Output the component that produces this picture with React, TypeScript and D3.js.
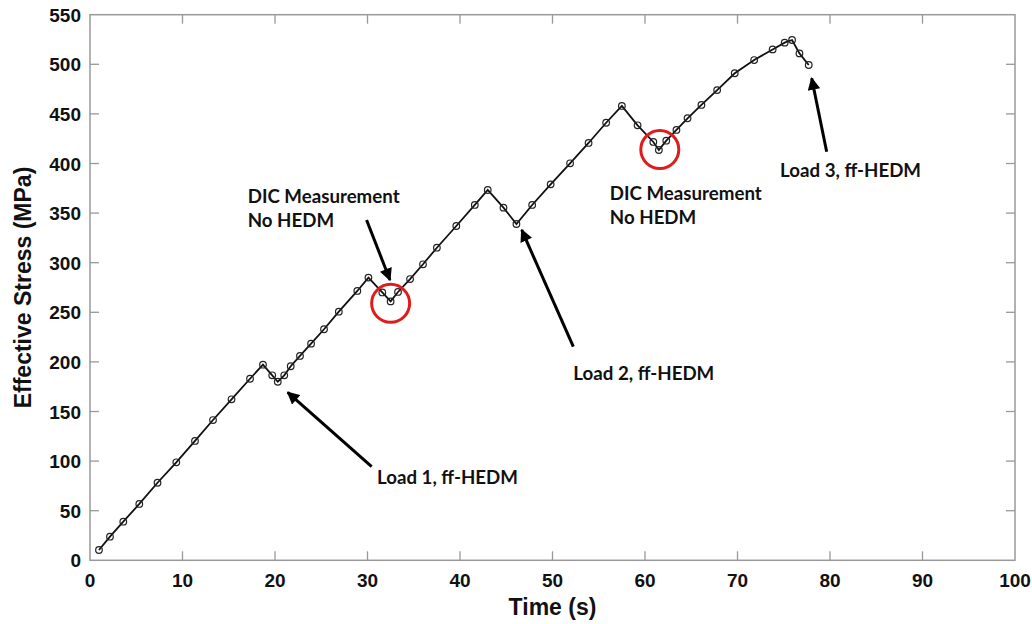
import React from "react";
import * as d3 from "d3";

const timeS = [0.97, 2.16, 3.6, 5.33, 7.3, 9.33, 11.35, 13.3, 15.3, 17.3, 18.7, 19.7, 20.3, 21.0, 21.7, 22.7, 23.9, 25.3, 26.9, 28.9, 30.1, 31.6, 32.5, 33.3, 34.6, 36.0, 37.5, 39.6, 41.6, 43.0, 44.7, 46.1, 47.8, 49.8, 51.9, 53.9, 55.8, 57.5, 59.2, 60.9, 61.5, 62.3, 63.4, 64.6, 66.1, 67.8, 69.7, 71.8, 73.8, 75.1, 75.9, 76.7, 77.7];
const stressMPa = [10.4, 23.8, 38.9, 56.8, 78.2, 98.8, 120.3, 141.4, 162.3, 183, 197.2, 186.5, 180, 186.5, 195.6, 206, 218.4, 232.9, 250.6, 271.5, 285, 270, 261, 270.5, 283.5, 298.4, 315.1, 337, 358.2, 373.3, 355.5, 339, 358.2, 379, 400.2, 420.7, 441.1, 458, 438.5, 421.7, 413.6, 423, 433.8, 445.6, 459, 474, 491, 504.3, 515, 521.8, 524.5, 511, 499.3];

const xTicks = [0, 10, 20, 30, 40, 50, 60, 70, 80, 90, 100];
const yTicks = [0, 50, 100, 150, 200, 250, 300, 350, 400, 450, 500, 550];

// annotations in data units
const circles = [
  { x: 32.5, y: 259 },
  { x: 61.6, y: 414 },
];
const arrows = [
  { x1: 30.45, y1: 94.4, x2: 21.37, y2: 169.4 },
  { x1: 52.25, y1: 215.3, x2: 46.67, y2: 333 },
  { x1: 29.9, y1: 343, x2: 32.43, y2: 282.6 },
  { x1: 79.64, y1: 411.9, x2: 78.02, y2: 485.9 },
];
const labels = [
  { x: 17.05, y: 359.9, lines: ["DIC Measurement", "No HEDM"] },
  { x: 56.2, y: 363.2, lines: ["DIC Measurement", "No HEDM"] },
  { x: 31.03, y: 76.9, lines: ["Load 1, ff-HEDM"] },
  { x: 52.25, y: 181.8, lines: ["Load 2, ff-HEDM"] },
  { x: 74.6, y: 386.7, lines: ["Load 3, ff-HEDM"] },
];

const W = 1032;
const H = 624;
const L = 90, R = 1015, T = 14.7, B = 560.3;

export default function App() {
  const x = d3.scaleLinear().domain([0, 100]).range([L, R]);
  const y = d3.scaleLinear().domain([0, 550]).range([B, T]);
  const pts = timeS.map((t, i) => [t, stressMPa[i]] as [number, number]);
  const line = d3.line<[number, number]>().x((d) => x(d[0])).y((d) => y(d[1]));
  const axisColor = "#999";
  const tickLen = 9;
  const tickFont = "'Liberation Sans', Arial, Helvetica, sans-serif";
  const annFont = "Lato, 'Open Sans', sans-serif";

  return (
    <svg width={W} height={H} style={{ position: "absolute", left: 0, top: 0, background: "#fff" }}>
      <defs>
        <marker id="ah" viewBox="0 0 10 10" refX="9" refY="5" markerWidth="4.4" markerHeight="4.2" orient="auto" markerUnits="strokeWidth">
          <path d="M0,0 L10,5 L0,10 z" fill="#000" />
        </marker>
      </defs>
      <rect x={0} y={0} width={W} height={H} fill="#fff" />
      {xTicks.map((t) => (
        <g key={"xt" + t}>
          {t > 0 && t < 100 && (
            <>
              <line x1={x(t)} x2={x(t)} y1={B} y2={B - tickLen} stroke={axisColor} strokeWidth={1.3} />
              <line x1={x(t)} x2={x(t)} y1={T} y2={T + tickLen} stroke={axisColor} strokeWidth={1.3} />
            </>
          )}
          <text x={x(t)} y={587} textAnchor="middle" fontFamily={tickFont} fontWeight="bold" fontSize={19} fill="#111">
            {t}
          </text>
        </g>
      ))}
      {yTicks.map((t) => (
        <g key={"yt" + t}>
          {t > 0 && t < 550 && (
            <>
              <line x1={L} x2={L + tickLen} y1={y(t)} y2={y(t)} stroke={axisColor} strokeWidth={1.3} />
              <line x1={R} x2={R - tickLen} y1={y(t)} y2={y(t)} stroke={axisColor} strokeWidth={1.3} />
            </>
          )}
          <text x={81} y={y(t) + 7} textAnchor="end" fontFamily={tickFont} fontWeight="bold" fontSize={19} fill="#111">
            {t}
          </text>
        </g>
      ))}
      <rect x={L} y={T} width={R - L} height={B - T} fill="none" stroke={axisColor} strokeWidth={1.5} />
      <text x={(L + R) / 2} y={615} textAnchor="middle" fontFamily={tickFont} fontWeight="bold" fontSize={23} fill="#111">
        Time (s)
      </text>
      <text
        transform={`translate(31,${(T + B) / 2}) rotate(-90)`}
        textAnchor="middle"
        fontFamily={tickFont}
        fontWeight="bold"
        fontSize={23}
        fill="#111"
      >
        Effective Stress (MPa)
      </text>
      <path d={line(pts) || ""} fill="none" stroke="#111" strokeWidth={1.8} />
      {pts.map((p, i) => (
        <circle key={"p" + i} cx={x(p[0])} cy={y(p[1])} r={3.3} fill="none" stroke="#222" strokeWidth={1.2} />
      ))}
      {circles.map((c, i) => (
        <circle key={"c" + i} cx={x(c.x)} cy={y(c.y)} r={19} fill="none" stroke="#e01b1b" strokeWidth={3} />
      ))}
      {arrows.map((a, i) => (
        <line key={"a" + i} x1={x(a.x1)} y1={y(a.y1)} x2={x(a.x2)} y2={y(a.y2)} stroke="#000" strokeWidth={3} markerEnd="url(#ah)" />
      ))}
      {labels.map((lb, i) => (
        <text key={"l" + i} x={x(lb.x)} y={y(lb.y)} fontFamily={annFont} fontWeight="bold" fontSize={18.7} fill="#111">
          {lb.lines.map((s, j) => (
            <tspan key={j} x={x(lb.x)} dy={j === 0 ? 0 : 24}>
              {s}
            </tspan>
          ))}
        </text>
      ))}
    </svg>
  );
}
